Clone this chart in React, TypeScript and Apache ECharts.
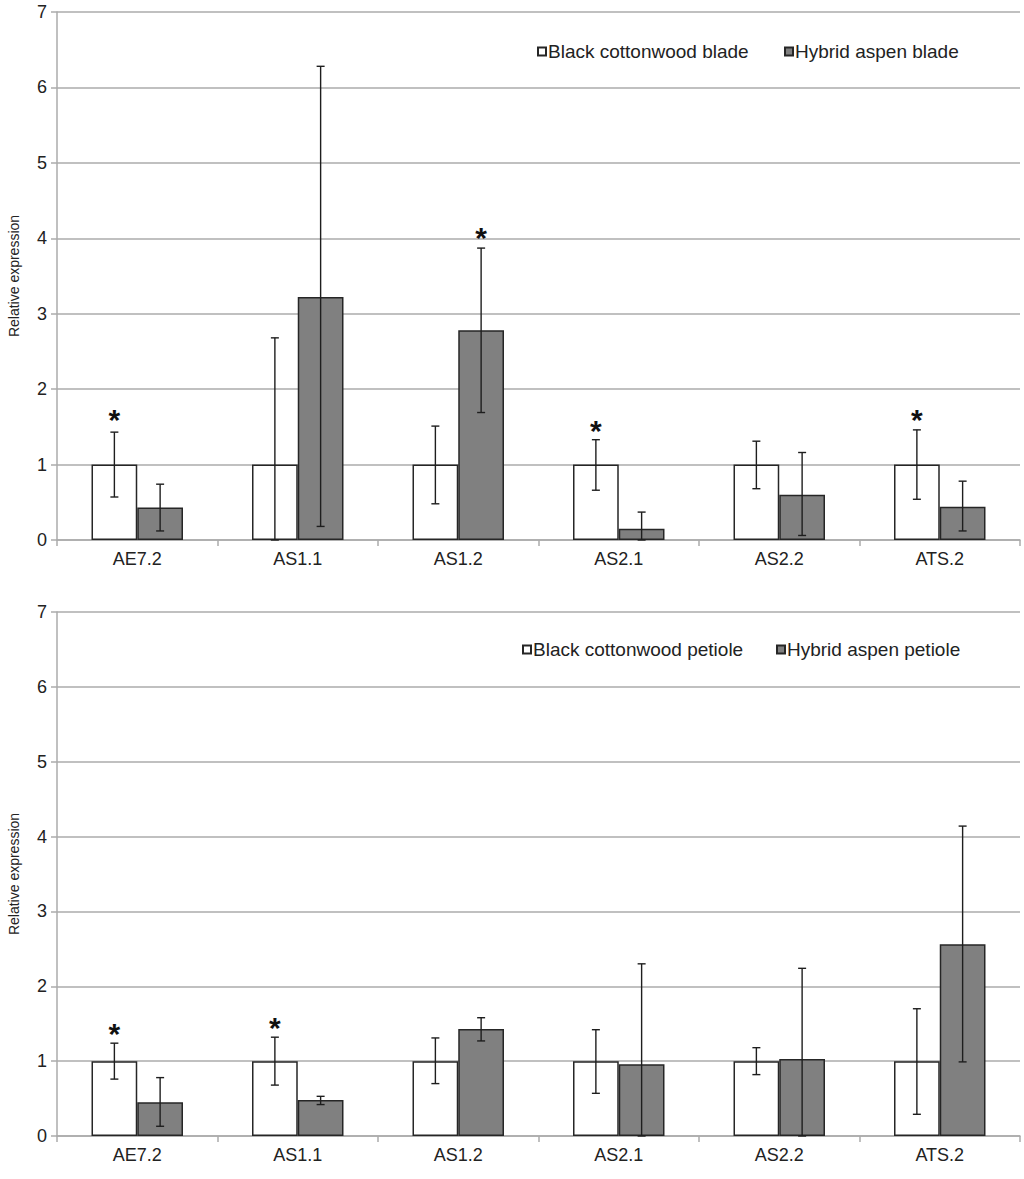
import React, { useEffect, useRef } from "react";
import * as echarts from "echarts";

const categories = ["AE7.2", "AS1.1", "AS1.2", "AS2.1", "AS2.2", "ATS.2"];
const yTicks = [0, 1, 2, 3, 4, 5, 6, 7];

const bladeCottonwood = [1, 1, 1, 1, 1, 1];
const bladeCottonwoodLow = [0.57, 0, 0.48, 0.66, 0.68, 0.54];
const bladeCottonwoodHigh = [1.43, 2.68, 1.51, 1.33, 1.31, 1.46];
const bladeAspen = [0.43, 3.22, 2.78, 0.15, 0.6, 0.44];
const bladeAspenLow = [0.12, 0.18, 1.69, 0, 0.06, 0.12];
const bladeAspenHigh = [0.74, 6.28, 3.87, 0.37, 1.16, 0.78];
const bladeStarCottonwood = [1.7, null, null, 1.56, null, 1.71];
const bladeStarAspen = [null, null, 4.11, null, null, null];

const petioleCottonwood = [1, 1, 1, 1, 1, 1];
const petioleCottonwoodLow = [0.76, 0.68, 0.7, 0.57, 0.82, 0.29];
const petioleCottonwoodHigh = [1.24, 1.32, 1.31, 1.42, 1.18, 1.7];
const petioleAspen = [0.45, 0.48, 1.43, 0.96, 1.03, 2.56];
const petioleAspenLow = [0.13, 0.42, 1.27, 0, 0, 0.99];
const petioleAspenHigh = [0.78, 0.53, 1.58, 2.3, 2.24, 4.14];
const petioleStarCottonwood = [1.47, 1.56, null, null, null, null];
const petioleStarAspen = [null, null, null, null, null, null];

const FONT = "'Liberation Sans', Arial, sans-serif";
const GRID_COLOR = "#ababab";
const BAR_BORDER = "#262626";
const GRAY = "#808080";
const BAR_FRAC = 0.57;

function errorData(lo: number[], hi: number[]) {
  return lo.map((l, i) => [i, l, hi[i]]);
}
function starData(s: (number | null)[]) {
  return s.map((v, i) => (v == null ? null : [i, v])).filter((d) => d !== null);
}

function errRender(sign: number) {
  return (params: any, api: any) => {
    const x = api.value(0);
    const lo = api.coord([x, api.value(1)]);
    const hi = api.coord([x, api.value(2)]);
    const w = api.size([1, 0])[0];
    const cx = lo[0] + (sign * w * BAR_FRAC) / 4;
    const cap = 4;
    const st = { stroke: "#1e1e1e", lineWidth: 1.4 };
    return {
      type: "group",
      children: [
        { type: "line", shape: { x1: cx, y1: lo[1], x2: cx, y2: hi[1] }, style: st },
        { type: "line", shape: { x1: cx - cap, y1: hi[1], x2: cx + cap, y2: hi[1] }, style: st },
        { type: "line", shape: { x1: cx - cap, y1: lo[1], x2: cx + cap, y2: lo[1] }, style: st },
      ],
    };
  };
}

function starRender(sign: number) {
  return (params: any, api: any) => {
    const x = api.value(0);
    const p = api.coord([x, api.value(1)]);
    const w = api.size([1, 0])[0];
    const cx = p[0] + (sign * w * BAR_FRAC) / 4;
    return {
      type: "text",
      x: cx,
      y: p[1] + 8,
      style: {
        text: "*",
        fill: "#111",
        font: `bold 30px ${FONT}`,
        align: "center",
        verticalAlign: "middle",
      },
    };
  };
}

function axes(idx: number) {
  const xAxis = {
    type: "category",
    gridIndex: idx,
    data: categories,
    axisLine: { lineStyle: { color: GRID_COLOR, width: 1.5 } },
    axisTick: { show: true, length: 6, lineStyle: { color: GRID_COLOR, width: 1.5 } },
    axisLabel: { color: "#222", fontSize: 18, fontFamily: FONT, margin: 10 },
  };
  const yAxis = {
    type: "value",
    gridIndex: idx,
    min: yTicks[0],
    max: yTicks[yTicks.length - 1],
    interval: 1,
    name: "Relative expression",
    nameLocation: "middle",
    nameGap: 36,
    nameRotate: 90,
    nameTextStyle: { color: "#222", fontSize: 14, fontFamily: FONT },
    axisLine: { show: true, lineStyle: { color: GRID_COLOR, width: 1.5 } },
    axisTick: { show: true, length: 6, lineStyle: { color: GRID_COLOR, width: 1.5 } },
    axisLabel: { color: "#222", fontSize: 18, fontFamily: FONT, margin: 10 },
    splitLine: { show: true, lineStyle: { color: GRID_COLOR, width: 1.5 } },
  };
  return { xAxis, yAxis };
}

function chartSeries(
  idx: number,
  names: [string, string],
  white: number[],
  whiteLo: number[],
  whiteHi: number[],
  gray: number[],
  grayLo: number[],
  grayHi: number[],
  starW: (number | null)[],
  starG: (number | null)[]
) {
  return [
    {
      type: "bar",
      name: names[0],
      xAxisIndex: idx,
      yAxisIndex: idx,
      data: white,
      barGap: "0%",
      barCategoryGap: "43%",
      itemStyle: { color: "#ffffff", borderColor: BAR_BORDER, borderWidth: 1.5 },
    },
    {
      type: "bar",
      name: names[1],
      xAxisIndex: idx,
      yAxisIndex: idx,
      data: gray,
      barGap: "0%",
      barCategoryGap: "43%",
      itemStyle: { color: GRAY, borderColor: BAR_BORDER, borderWidth: 1.5 },
    },
    {
      type: "custom",
      xAxisIndex: idx,
      yAxisIndex: idx,
      data: errorData(whiteLo, whiteHi),
      renderItem: errRender(-1),
      z: 5,
      silent: true,
    },
    {
      type: "custom",
      xAxisIndex: idx,
      yAxisIndex: idx,
      data: errorData(grayLo, grayHi),
      renderItem: errRender(1),
      z: 5,
      silent: true,
    },
    {
      type: "custom",
      xAxisIndex: idx,
      yAxisIndex: idx,
      data: starData(starW),
      renderItem: starRender(-1),
      z: 6,
      silent: true,
    },
    {
      type: "custom",
      xAxisIndex: idx,
      yAxisIndex: idx,
      data: starData(starG),
      renderItem: starRender(1),
      z: 6,
      silent: true,
    },
  ];
}

function legend(name: string, left: number, top: number) {
  return {
    data: [name],
    left,
    top,
    icon: "rect",
    itemWidth: 8,
    itemHeight: 8,
    itemGap: 0,
    padding: 0,
    selectedMode: false,
    textStyle: { color: "#222", fontSize: 19, fontFamily: FONT, padding: [0, 0, 0, -3] },
  };
}

export default function App() {
  const ref = useRef<HTMLDivElement>(null);
  useEffect(() => {
    if (!ref.current) return;
    const chart = echarts.init(ref.current, null, { renderer: "svg" });
    const a0 = axes(0);
    const a1 = axes(1);
    const bladeNames: [string, string] = ["Black cottonwood blade", "Hybrid aspen blade"];
    const petioleNames: [string, string] = ["Black cottonwood petiole", "Hybrid aspen petiole"];
    chart.setOption({
      animation: false,
      backgroundColor: "#ffffff",
      textStyle: { fontFamily: FONT },
      grid: [
        { left: 57, right: 4, top: 12, height: 528, outerBoundsMode: "none", containLabel: false },
        { left: 57, right: 4, top: 612, height: 524, outerBoundsMode: "none", containLabel: false },
      ],
      xAxis: [a0.xAxis, a1.xAxis],
      yAxis: [a0.yAxis, a1.yAxis],
      legend: [
        legend(bladeNames[0], 537, 42),
        legend(bladeNames[1], 784, 42),
        legend(petioleNames[0], 522, 640),
        legend(petioleNames[1], 776, 640),
      ],
      series: [
        ...chartSeries(
          0,
          bladeNames,
          bladeCottonwood,
          bladeCottonwoodLow,
          bladeCottonwoodHigh,
          bladeAspen,
          bladeAspenLow,
          bladeAspenHigh,
          bladeStarCottonwood,
          bladeStarAspen
        ),
        ...chartSeries(
          1,
          petioleNames,
          petioleCottonwood,
          petioleCottonwoodLow,
          petioleCottonwoodHigh,
          petioleAspen,
          petioleAspenLow,
          petioleAspenHigh,
          petioleStarCottonwood,
          petioleStarAspen
        ),
      ],
    });
    return () => chart.dispose();
  }, []);
  return (
    <div
      ref={ref}
      style={{ position: "absolute", left: 0, top: 0, width: 1024, height: 1179, background: "#fff" }}
    />
  );
}
